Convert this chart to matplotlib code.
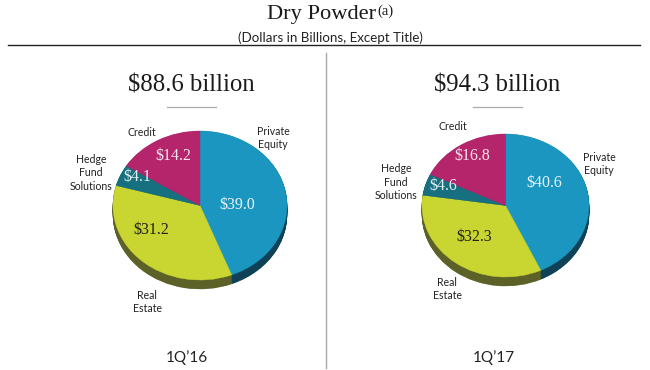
import matplotlib
matplotlib.use("Agg")
import matplotlib.pyplot as plt

W, H = 650, 370

# data
categories = ["Private\nEquity", "Real\nEstate", "Hedge\nFund\nSolutions", "Credit"]
values_1q16 = [39.0, 31.2, 4.1, 14.2]
values_1q17 = [40.6, 32.3, 4.6, 16.8]
totals = ["$88.6 billion", "$94.3 billion"]
periods = ["1Q’16", "1Q’17"]

top_colors = ["#1a96c0", "#c9d530", "#17707f", "#b4256c"]
side_colors = ["#0f4257", "#5c6128", "#0e4450", "#6e1742"]
value_colors = ["#e8f4f8", "#222211", "#e0eef0", "#f6e4ee"]

SERIF = "Liberation Serif"
SANS = "Lato"

fig = plt.figure(figsize=(W / 100, H / 100), dpi=100, facecolor="white")

# whole figure in pixels, for the texts and rules
bg = fig.add_axes([0, 0, 1, 1])
bg.set_xlim(0, W)
bg.set_ylim(H, 0)
bg.axis("off")


# pie with a darker rim underneath, squashed into an ellipse by its own axes
def draw_pie(values, cx, cy, rx, ry, depth):
    ax = fig.add_axes([(cx - rx) / W, 1 - (cy + ry + depth) / H, 2 * rx / W, (2 * ry + depth) / H])
    d = depth / ry
    for k in range(depth * 2, 0, -1):
        wedges, _ = ax.pie(values, colors=side_colors, startangle=90, counterclock=False,
                           radius=1, center=(0, -k / 2 / ry))
        for w in wedges:
            w.set_edgecolor(w.get_facecolor())
            w.set_linewidth(0.3)
    wedges, _ = ax.pie(values, colors=top_colors, startangle=90, counterclock=False,
                       radius=1, center=(0, 0))
    for w in wedges:
        w.set_edgecolor(w.get_facecolor())
        w.set_linewidth(0.3)
    ax.set_aspect("auto")
    ax.set_xlim(-1, 1)
    ax.set_ylim(-1 - d, 1)
    ax.patch.set_alpha(0)


draw_pie(values_1q16, 200, 205.5, 87, 74.5, 9)
draw_pie(values_1q17, 505.5, 205.5, 83.5, 71.5, 9)

# header
bg.text(322, 14.5, "Dry Powder", family=SERIF, fontsize=16.2, ha="center", va="center", color="#1a1a1a")
bg.text(385, 11.5, "(a)", family=SERIF, fontsize=10.5, ha="center", va="center", color="#1a1a1a")
bg.text(330.5, 37.5, "(Dollars in Billions, Except Title)", family=SANS, fontsize=9.6, ha="center",
        va="center", color="#222222")
bg.plot([8, 640], [44.5, 44.5], color="#222222", lw=1)
bg.plot([326, 326], [53, 368], color="#a8a8a8", lw=1)

# totals and period labels
for text, period, x_total, x_period in zip(totals, periods, [191, 497.5], [186.5, 493.5]):
    bg.text(x_total, 85.5, text, family=SERIF, fontsize=17.8, ha="center", va="center", color="#1a1a1a")
    bg.plot([x_total - 24.5, x_total + 24.5], [106.5, 106.5], color="#aaaaaa", lw=0.9)
    bg.text(x_period, 358, period, family=SANS, fontsize=11, ha="center", va="center", color="#222222")

# category labels
label_pos = [
    [(273, 138), (147, 302), (91, 173), (142, 133)],
    [(599, 164), (447, 289), (396, 182), (453, 127)],
]
value_pos = [
    [(237, 205), (151, 230), (137, 177), (173, 156)],
    [(544, 183), (474, 237), (443, 186), (472, 156)],
]
for vals, lpos, vpos in zip([values_1q16, values_1q17], label_pos, value_pos):
    for i, cat in enumerate(categories):
        bg.text(*lpos[i], cat, family=SANS, fontsize=7.6, ha="center", va="center",
                color="#222222", linespacing=1.25, zorder=10)
        fig.text(vpos[i][0] / W, 1 - vpos[i][1] / H, f"${vals[i]:.1f}", family=SERIF, fontsize=11.5,
                 ha="center", va="center", color=value_colors[i], zorder=10)

fig.savefig("out.png", dpi=100)
